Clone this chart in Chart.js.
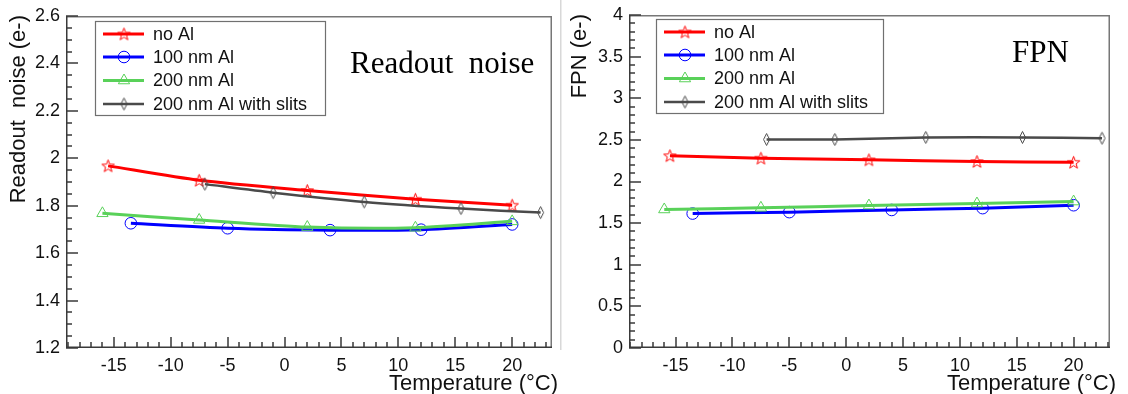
<!DOCTYPE html>
<html lang="en">
<head>
<meta charset="UTF-8">
<title>Readout noise and FPN vs temperature</title>
<script src="https://cdn.jsdelivr.net/npm/chart.js"></script>
<style>
  body { margin: 0; background: #fff; width: 1128px; height: 394px; overflow: hidden; position: relative; }
  canvas { position: absolute; top: 0; }
  #noise { left: 0; }
  #fpn { left: 560px; }
</style>
</head>
<body>
<canvas id="noise" width="560" height="394"></canvas>
<canvas id="fpn" width="568" height="394"></canvas>

<script>
// series names and temperatures (deg C) of each measurement
const seriesNames = ['no Al', '100 nm Al', '200 nm Al', '200 nm Al with slits'];
const tempNoAl  = [-15.5, -7.5, 2, 11.5, 20];
const temp100   = [-13.5, -5, 4, 12, 20];
const temp200   = [-16, -7.5, 2, 11.5, 20];
const tempSlits = [-7, -1, 7, 15.5, 22.5];

// readout noise (e-)
const noiseNoAl  = [1.968, 1.907, 1.864, 1.827, 1.802];
const noise100   = [1.726, 1.705, 1.697, 1.699, 1.721];
const noise200   = [1.768, 1.740, 1.710, 1.707, 1.734];
const noiseSlits = [1.891, 1.855, 1.816, 1.788, 1.771];

// fixed pattern noise (e-)
const fpnNoAl  = [2.31, 2.28, 2.26, 2.24, 2.23];
const fpn100   = [1.615, 1.632, 1.658, 1.68, 1.715];
const fpn200   = [1.664, 1.684, 1.711, 1.735, 1.759];
const fpnSlits = [2.505, 2.505, 2.53, 2.53, 2.52];

// tick labels
const tempTicks  = [-15, -10, -5, 0, 5, 10, 15, 20];
const noiseTicks = [1.2, 1.4, 1.6, 1.8, 2, 2.2, 2.4, 2.6];
const fpnTicks   = [0, 0.5, 1, 1.5, 2, 2.5, 3, 3.5, 4];

const RED = '#ff0000', BLUE = '#0000ff', GREEN = '#59d159', GRAY = '#4a4a4a';

function starImage(color) {
  const c = document.createElement('canvas');
  c.width = 15; c.height = 15;
  const g = c.getContext('2d');
  g.strokeStyle = color; g.lineWidth = 1;
  g.beginPath();
  for (let i = 0; i < 10; i++) {
    const r = i % 2 ? 2.7 : 6.5;
    const a = -Math.PI / 2 + i * Math.PI / 5;
    const px = 7.5 + r * Math.cos(a), py = 8 + r * Math.sin(a);
    if (i) g.lineTo(px, py); else g.moveTo(px, py);
  }
  g.closePath(); g.stroke();
  return c;
}

function diamondImage(color) {
  const c = document.createElement('canvas');
  c.width = 9; c.height = 15;
  const g = c.getContext('2d');
  g.strokeStyle = color; g.lineWidth = 1;
  g.beginPath();
  g.moveTo(4.5, 1.5); g.lineTo(7.5, 7.5); g.lineTo(4.5, 13.5); g.lineTo(1.5, 7.5);
  g.closePath(); g.stroke();
  return c;
}

const starMark = starImage(RED);
const diamondMark = diamondImage(GRAY);

function pts(xs, ys) {
  return xs.map((x, i) => ({ x: x, y: ys[i] }));
}

function makeSets(noAl, al100, al200, slits) {
  const base = { borderWidth: 3, tension: 0.25, pointBorderWidth: 1, backgroundColor: 'rgba(0,0,0,0)', clip: false };
  return [
    Object.assign({}, base, { label: seriesNames[0], data: pts(tempNoAl, noAl), borderColor: RED, pointStyle: starMark, order: 3 }),
    Object.assign({}, base, { label: seriesNames[1], data: pts(temp100, al100), borderColor: BLUE, pointStyle: 'circle', pointRadius: 5.8, order: 4 }),
    Object.assign({}, base, { label: seriesNames[2], data: pts(temp200, al200), borderColor: GREEN, pointStyle: 'triangle', pointRadius: 6.5, order: 2 }),
    Object.assign({}, base, { label: seriesNames[3], data: pts(tempSlits, slits), borderColor: GRAY, borderWidth: 2.5, pointStyle: diamondMark, order: 1 })
  ];
}

function drawMarker(ctx, style, x, y, color) {
  if (style instanceof HTMLCanvasElement) {
    ctx.drawImage(style, x - style.width / 2, y - style.height / 2);
    return;
  }
  ctx.strokeStyle = color; ctx.lineWidth = 1;
  ctx.beginPath();
  if (style === 'circle') {
    ctx.arc(x, y, 5.8, 0, Math.PI * 2);
  } else {
    const r = 6.5;
    for (let i = 0; i < 3; i++) {
      const a = i * 2 * Math.PI / 3;
      const px = x + Math.sin(a) * r, py = y - Math.cos(a) * r;
      if (i) ctx.lineTo(px, py); else ctx.moveTo(px, py);
    }
    ctx.closePath();
  }
  ctx.stroke();
}

// ROOT-like frame, inner ticks, legend box and titles
function rootStyle(o) {
  return {
    id: 'rootStyle',
    afterDraw(chart) {
      const ctx = chart.ctx, a = chart.chartArea;
      const x = chart.scales.x, y = chart.scales.y;
      ctx.save();

      if (o.sep) {
        ctx.fillStyle = '#d8d8d8';
        ctx.fillRect(0, 0, 1.5, a.bottom + 2);
      }

      ctx.fillStyle = '#777';
      ctx.fillRect(a.right - 1.5, a.top, 1.5, a.height);
      ctx.fillRect(a.left, a.top, a.width, 1.5);

      ctx.fillStyle = '#3a3a3a';
      ctx.fillRect(a.left, a.top, 1.5, a.height);
      ctx.fillRect(a.left, a.bottom - 1.5, a.width, 1.5);

      // inner ticks, major and minor
      for (let k = Math.ceil(x.min / o.xMinor - 1e-6); k <= Math.floor(x.max / o.xMinor + 1e-6); k++) {
        const v = k * o.xMinor;
        const major = Math.abs(v / o.xMajor - Math.round(v / o.xMajor)) < 1e-6;
        const px = Math.round(x.getPixelForValue(v));
        const len = major ? 11 : 6;
        ctx.fillRect(px - 0.75, a.bottom - len, 1.5, len);
      }
      for (let j = Math.ceil(y.min / o.yMinor - 1e-6); j <= Math.floor(y.max / o.yMinor + 1e-6); j++) {
        const v = j * o.yMinor;
        const major = Math.abs(v / o.yMajor - Math.round(v / o.yMajor)) < 1e-6;
        const py = Math.round(y.getPixelForValue(v));
        ctx.fillRect(a.left, py - 0.75, major ? 12 : 6, 1.5);
      }

      // legend
      const bx = o.legend[0], by = o.legend[1], bw = o.legend[2], bh = o.legend[3];
      ctx.fillStyle = '#fff';
      ctx.fillRect(bx, by, bw, bh);
      ctx.strokeStyle = '#707070'; ctx.lineWidth = 1.2;
      ctx.strokeRect(bx + 0.5, by + 0.5, bw, bh);
      const rows = [13, 36, 59.5, 83];
      ctx.font = '18px "Liberation Sans", Arial, sans-serif';
      ctx.textBaseline = 'middle'; ctx.textAlign = 'left';
      chart.data.datasets.forEach((ds, i) => {
        const ry = by + rows[i];
        ctx.strokeStyle = ds.borderColor; ctx.lineWidth = ds.borderWidth;
        ctx.beginPath(); ctx.moveTo(bx + 8, ry); ctx.lineTo(bx + 49, ry); ctx.stroke();
        drawMarker(ctx, ds.pointStyle, bx + 29, ry, ds.borderColor);
        ctx.fillStyle = '#111';
        ctx.fillText(ds.label, bx + 58, ry + 1);
      });

      // panel title
      ctx.fillStyle = '#000';
      ctx.font = '31px "Liberation Serif", "Times New Roman", serif';
      ctx.textBaseline = 'alphabetic';
      ctx.fillText(o.title, o.titleX, o.titleY);

      // axis titles
      ctx.font = '22px "Liberation Sans", Arial, sans-serif';
      ctx.fillStyle = '#111';
      ctx.textAlign = 'right';
      ctx.fillText('Temperature (\u00B0C)', a.right + 6, 390);
      ctx.translate(o.yTitleX, a.top - 1);
      ctx.rotate(-Math.PI / 2);
      ctx.textBaseline = 'middle';
      ctx.fillText(o.yTitle, 0, 0);
      ctx.restore();
    }
  };
}

Chart.defaults.font.family = '"Liberation Sans", Arial, sans-serif';
Chart.defaults.font.size = 18;
Chart.defaults.color = '#111';

function makeChart(id, sets, p) {
  new Chart(document.getElementById(id), {
    type: 'line',
    data: { datasets: sets },
    plugins: [rootStyle(p.style)],
    options: {
      responsive: false,
      animation: false,
      layout: { padding: { left: 0, top: p.top, right: p.right, bottom: 0 } },
      plugins: {
        legend: { display: false },
        tooltip: { enabled: false }
      },
      scales: {
        x: {
          type: 'linear', min: p.xMin, max: p.xMax,
          grid: { display: false, drawTicks: false }, border: { display: false },
          afterFit: s => { s.height = 46; },
          afterBuildTicks: s => { s.ticks = tempTicks.map(v => ({ value: v })); },
          ticks: { padding: 7, autoSkip: false, maxRotation: 0, callback: v => String(v) }
        },
        y: {
          type: 'linear', min: p.yMin, max: p.yMax,
          grid: { display: false, drawTicks: false }, border: { display: false },
          afterFit: s => { s.width = p.left; },
          afterBuildTicks: s => { s.ticks = p.yTicks.map(v => ({ value: v })); },
          ticks: { padding: 6, autoSkip: false, font: { lineHeight: 1 }, callback: v => String(Math.round(v * 10) / 10) }
        }
      }
    }
  });
}

makeChart('noise', makeSets(noiseNoAl, noise100, noise200, noiseSlits), {
  top: 16, right: 8, left: 66,
  xMin: -19.2, xMax: 23.5, yMin: 1.2, yMax: 2.6, yTicks: noiseTicks,
  style: {
    xMajor: 5, xMinor: 1, yMajor: 0.2, yMinor: 0.05,
    legend: [95, 21, 230, 94],
    title: 'Readout\u00A0\u00A0noise', titleX: 350, titleY: 73,
    yTitle: 'Readout\u00A0\u00A0noise (e-)', yTitleX: 19, sep: false
  }
});

makeChart('fpn', makeSets(fpnNoAl, fpn100, fpn200, fpnSlits), {
  top: 15, right: 18, left: 69,
  xMin: -19.1, xMax: 23.2, yMin: 0, yMax: 4, yTicks: fpnTicks,
  style: {
    xMajor: 5, xMinor: 1, yMajor: 0.5, yMinor: 0.1,
    legend: [96, 19, 227, 94],
    title: 'FPN', titleX: 452, titleY: 62,
    yTitle: 'FPN (e-)', yTitleX: 20, sep: true
  }
});
</script>
</body>
</html>
